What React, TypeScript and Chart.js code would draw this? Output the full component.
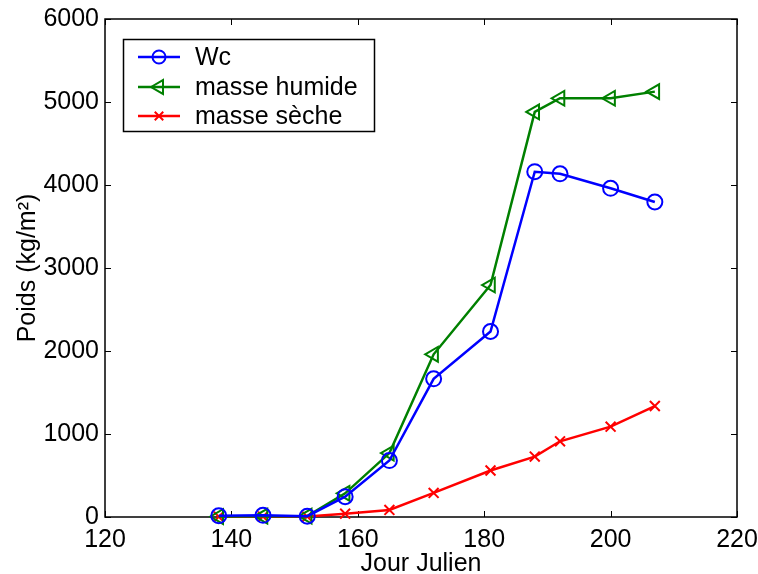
import React, { useEffect, useRef } from "react";
import { Chart, registerables } from "chart.js";
import { drawPoint } from "chart.js/helpers";

Chart.register(...registerables);

// ---- data ----
const days = [138, 145, 152, 158, 165, 172, 181, 188, 192, 200, 207];
const wc = [15, 20, 10, 245, 680, 1665, 2235, 4160, 4135, 3960, 3795];
const masseHumide = [5, 10, 10, 285, 770, 1960, 2795, 4880, 5045, 5045, 5125];
const masseSeche = [3, 5, 5, 40, 85, 290, 560, 728, 912, 1088, 1337];
const xTickValues = [120, 140, 160, 180, 200, 220];
const yTickValues = [0, 1000, 2000, 3000, 4000, 5000, 6000];
const seriesLabels = ["Wc", "masse humide", "masse sèche"];
const xTitle = "Jour Julien";
const yTitle = "Poids (kg/m²)";

const FONT = "'Liberation Sans', Arial, Helvetica, sans-serif";

const toPoints = (ys: number[]) => days.map((d, i) => ({ x: d, y: ys[i] }));

const framePlugin = {
  id: "matlabFrame",
  beforeDatasetsDraw(chart: any) {
    const { ctx, chartArea } = chart;
    const { left, right, top, bottom } = chartArea;
    const xs = chart.scales.x;
    const ys = chart.scales.y;
    ctx.save();
    ctx.strokeStyle = "#000";
    ctx.lineWidth = 1.5;
    ctx.strokeRect(left, top, right - left, bottom - top);
    ctx.lineWidth = 1;
    const tl = 6;
    ctx.beginPath();
    xTickValues.forEach((v) => {
      const px = Math.round(xs.getPixelForValue(v)) + 0.5;
      ctx.moveTo(px, bottom);
      ctx.lineTo(px, bottom - tl);
      ctx.moveTo(px, top);
      ctx.lineTo(px, top + tl);
    });
    yTickValues.forEach((v) => {
      const py = Math.round(ys.getPixelForValue(v)) + 0.5;
      ctx.moveTo(left, py);
      ctx.lineTo(left + tl, py);
      ctx.moveTo(right, py);
      ctx.lineTo(right - tl, py);
    });
    ctx.stroke();
    ctx.restore();
  },
};

const legendPlugin = {
  id: "matlabLegend",
  afterDraw(chart: any) {
    const { ctx } = chart;
    const bx = 123.5, by = 39.5, bw = 251, bh = 92;
    ctx.save();
    ctx.fillStyle = "#fff";
    ctx.fillRect(bx, by, bw, bh);
    ctx.strokeStyle = "#000";
    ctx.lineWidth = 1.5;
    ctx.strokeRect(bx, by, bw, bh);
    const rowY = [57, 87, 116];
    chart.data.datasets.forEach((ds: any, i: number) => {
      const y = rowY[i];
      ctx.strokeStyle = ds.borderColor;
      ctx.lineWidth = ds.borderWidth;
      ctx.beginPath();
      ctx.moveTo(138, y);
      ctx.lineTo(180, y);
      ctx.stroke();
      ctx.lineWidth = ds.pointBorderWidth;
      ctx.fillStyle = "rgba(0,0,0,0)";
      drawPoint(ctx, {
        pointStyle: ds.pointStyle,
        radius: ds.legendRadius,
        rotation: ds.pointRotation || 0,
        borderWidth: ds.pointBorderWidth,
      } as any, 159, y);
      ctx.fillStyle = "#000";
      ctx.font = `25px ${FONT}`;
      ctx.textAlign = "left";
      ctx.textBaseline = "middle";
      ctx.fillText(ds.label, 195, y + 1);
    });
    ctx.restore();
  },
};

export default function App() {
  const ref = useRef<HTMLCanvasElement | null>(null);
  useEffect(() => {
    if (!ref.current) return;
    const common = {
      borderWidth: 2.5,
      pointBorderWidth: 2,
      pointBackgroundColor: "rgba(0,0,0,0)",
      showLine: true,
      clip: false,
      tension: 0,
    };
    const chart = new Chart(ref.current, {
      type: "line",
      data: {
        datasets: [
          {
            ...common,
            label: seriesLabels[0],
            data: toPoints(wc),
            borderColor: "#0000ff",
            pointBorderColor: "#0000ff",
            pointStyle: "circle",
            pointRadius: 7.5,
            legendRadius: 6.5,
          } as any,
          {
            ...common,
            label: seriesLabels[1],
            data: toPoints(masseHumide),
            borderColor: "#008000",
            pointBorderColor: "#008000",
            pointStyle: "triangle",
            pointRotation: -90,
            pointRadius: 8.5,
            legendRadius: 8,
          } as any,
          {
            ...common,
            label: seriesLabels[2],
            data: toPoints(masseSeche),
            borderColor: "#ff0000",
            pointBorderColor: "#ff0000",
            pointStyle: "crossRot",
            pointRadius: 7,
            legendRadius: 6,
          } as any,
        ],
      },
      options: {
        animation: false,
        responsive: false,
        events: [],
        layout: { padding: { top: 19, right: 21, left: 0, bottom: 0 } },
        plugins: { legend: { display: false }, tooltip: { enabled: false } },
        scales: {
          x: {
            type: "linear",
            min: 120,
            max: 220,
            grid: { display: false, drawTicks: false },
            border: { display: false },
            afterBuildTicks: (s: any) => {
              s.ticks = xTickValues.map((v) => ({ value: v }));
            },
            afterFit: (s: any) => {
              s.height = 57;
              s.paddingLeft = 0;
              s.paddingRight = 0;
            },
            ticks: {
              color: "#000",
              font: { family: FONT, size: 25, lineHeight: 1 },
              padding: 11,
              maxRotation: 0,
              autoSkip: false,
              callback: (v: any) => String(v),
            },
            title: {
              display: true,
              text: xTitle,
              color: "#000",
              font: { family: FONT, size: 25, lineHeight: 0.8 },
              padding: { top: 0, bottom: 0 },
            },
          },
          y: {
            type: "linear",
            min: 0,
            max: 6000,
            grid: { display: false, drawTicks: false },
            border: { display: false },
            afterBuildTicks: (s: any) => {
              s.ticks = yTickValues.map((v) => ({ value: v }));
            },
            afterFit: (s: any) => {
              s.width = 105;
              s.paddingTop = 0;
              s.paddingBottom = 0;
            },
            ticks: {
              color: "#000",
              font: { family: FONT, size: 25, lineHeight: 1 },
              padding: 6,
              autoSkip: false,
              callback: (v: any) => String(v),
            },
            title: {
              display: true,
              text: yTitle,
              color: "#000",
              font: { family: FONT, size: 25, lineHeight: 1 },
              padding: { top: 16, bottom: 0 },
            },
          },
        },
      } as any,
      plugins: [framePlugin, legendPlugin],
    });
    return () => chart.destroy();
  }, []);
  return (
    <canvas
      ref={ref}
      width={758}
      height={574}
      style={{ position: "absolute", left: 0, top: 0, display: "block", background: "#fff" }}
    />
  );
}
